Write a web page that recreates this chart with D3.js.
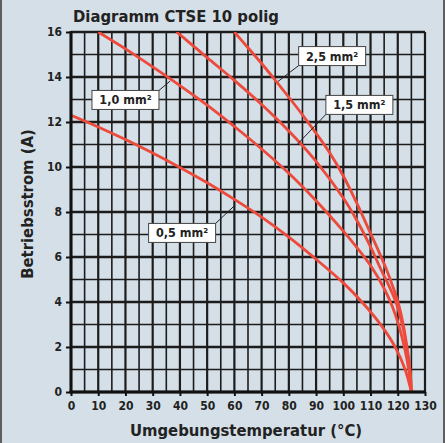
<!DOCTYPE html>
<html><head><meta charset="utf-8">
<script src="https://cdn.jsdelivr.net/npm/d3@7"></script>
<style>
html,body{margin:0;padding:0;background:#d4dfe7;}
svg{display:block;}
text{font-family:"DejaVu Sans Condensed","DejaVu Sans",sans-serif;font-stretch:condensed;font-weight:bold;fill:#222;}
</style></head><body>
<svg id="c" width="445" height="443"></svg>
<script>
// ---- data ----
const chartTitle = "Diagramm CTSE 10 polig";
const xTitle = "Umgebungstemperatur (°C)";
const yTitle = "Betriebsstrom (A)";
const xTickValues = [0,10,20,30,40,50,60,70,80,90,100,110,120,130];
const yTickValues = [0,2,4,6,8,10,12,14,16];
const seriesLabels = ["0,5 mm²","1,0 mm²","1,5 mm²","2,5 mm²"];

const temp05 = [0,10,20,30,40,50,60,70,80,90,100,107,114,119.4,122.7,125];
const curr05 = [12.3,11.78,11.22,10.62,9.98,9.3,8.56,7.77,6.88,5.9,4.85,3.98,2.95,1.92,1.0,0];

const temp10 = [10,20,30,40,50,60,70,80,90,100,105,110,115,118,120.4,122.6,124,125];
const curr10 = [16,15.25,14.45,13.62,12.75,11.8,10.8,9.72,8.5,7.15,6.42,5.62,4.6,3.8,2.95,1.9,1.0,0];

const temp15 = [38.8,40,50,60,70,80,90,100,105,110,114,117,119.6,122,123.5,124.5,125];
const curr15 = [16,15.88,14.86,13.85,12.78,11.6,10.25,8.62,7.62,6.45,5.4,4.65,3.9,2.8,1.8,0.9,0];

const temp25 = [60,65,70,75,80,85,90,95,100,105,110,113,116,118,120.2,122,123.5,124.5,125];
const curr25 = [16,15.3,14.6,13.86,13.1,12.32,11.5,10.63,9.6,8.38,7.05,6.25,5.4,4.75,3.95,3.0,1.9,0.95,0];

// annotation placement (data units): box centre and leader target
const labelBoxT = [40.8, 20, 105.9, 95.9];
const labelBoxI = [7.07, 12.98, 12.76, 14.93];
const leaderT = [60.2, 36.4, 83.2, 76.0];
const leaderI = [8.3, 13.82, 11.02, 13.8];
const leaderCorner = ["tr","tr","bl","bl"];

// ---- drawing ----
const svg = d3.select("#c");
const W = 445, H = 443;
svg.append("rect").attr("width",W).attr("height",H).attr("fill","#d4dfe7");
svg.append("rect").attr("x",0).attr("y",0).attr("width",2).attr("height",H).attr("fill","#5e5e5e");
svg.append("rect").attr("x",443).attr("y",0).attr("width",2).attr("height",H).attr("fill","#5e5e5e");

const x = d3.scaleLinear().domain([0,130]).range([71,425]);
const y = d3.scaleLinear().domain([0,16]).range([392,32]);

const grid = svg.append("g");
d3.range(0,131,5).forEach(t=>{
  grid.append("line").attr("x1",x(t)).attr("x2",x(t)).attr("y1",y(16)).attr("y2",y(0))
    .attr("stroke","#1c1c1c").attr("stroke-width", t%10===0 ? 2.2 : 1.6);
});
d3.range(0,17,1).forEach(v=>{
  grid.append("line").attr("x1",x(0)).attr("x2",x(130)).attr("y1",y(v)).attr("y2",y(v))
    .attr("stroke","#1c1c1c").attr("stroke-width", v%2===0 ? 2.5 : 1.6);
});

const series = [
  {t:temp05, c:curr05},
  {t:temp10, c:curr10},
  {t:temp15, c:curr15},
  {t:temp25, c:curr25}
];
const line = d3.line().x(d=>x(d[0])).y(d=>y(d[1])).curve(d3.curveCatmullRom.alpha(0.5));
svg.append("defs").append("clipPath").attr("id","clip")
  .append("rect").attr("x",x(0)).attr("y",y(16)).attr("width",x(130)-x(0)).attr("height",y(0)-y(16)+2);
series.forEach(s=>{
  svg.append("path").datum(s.t.map((t,i)=>[t,s.c[i]]))
    .attr("d",line).attr("fill","none").attr("stroke","#ee4a3c").attr("stroke-width",2.8)
    .attr("clip-path","url(#clip)");
});

// axes
const xAxis = d3.axisBottom(x).tickValues(xTickValues).tickSize(4).tickPadding(5);
const yAxis = d3.axisLeft(y).tickValues(yTickValues).tickSize(5).tickPadding(4);
const gx = svg.append("g").attr("transform",`translate(0,${y(0)})`).call(xAxis);
const gy = svg.append("g").attr("transform",`translate(${x(0)},0)`).call(yAxis);
[gx,gy].forEach(g=>{
  g.select(".domain").remove();
  g.selectAll(".tick line").attr("stroke","#111").attr("stroke-width",2);
  g.selectAll(".tick text").style("font-size","12px").attr("fill","#222");
});
svg.append("line").attr("x1",x(0)).attr("x2",x(0)).attr("y1",y(16)-1).attr("y2",y(0)+1.5).attr("stroke","#111").attr("stroke-width",3);
svg.append("line").attr("x1",x(0)-1.5).attr("x2",x(130)+1).attr("y1",y(0)).attr("y2",y(0)).attr("stroke","#111").attr("stroke-width",3);

// titles
svg.append("text").attr("x",73).attr("y",22).style("font-size","16.5px").text(chartTitle);
svg.append("text").attr("x",(x(0)+x(130))/2 - 2).attr("y",436).attr("text-anchor","middle").style("font-size","16.5px").text(xTitle);
svg.append("text").attr("transform",`translate(33,${(y(0)+y(16))/2 - 8}) rotate(-90)`).attr("text-anchor","middle").style("font-size","16.5px").text(yTitle);

// annotations
const bw = 67, bh = 19;
seriesLabels.forEach((lab,i)=>{
  const cx = x(labelBoxT[i]), cy = y(labelBoxI[i]);
  const corner = leaderCorner[i];
  const sx = corner[1]==="r" ? cx+bw/2 : cx-bw/2;
  const sy = corner[0]==="t" ? cy-bh/2 : cy+bh/2;
  svg.append("line").attr("x1",sx).attr("y1",sy).attr("x2",x(leaderT[i])).attr("y2",y(leaderI[i]))
    .attr("stroke","#222").attr("stroke-width",1);
  svg.append("rect").attr("x",cx-bw/2).attr("y",cy-bh/2).attr("width",bw).attr("height",bh)
    .attr("fill","#ffffff").attr("stroke","#444").attr("stroke-width",1);
  svg.append("text").attr("x",cx).attr("y",cy+4.5).attr("text-anchor","middle").style("font-size","12.5px").text(lab);
});
</script>
</body></html>
